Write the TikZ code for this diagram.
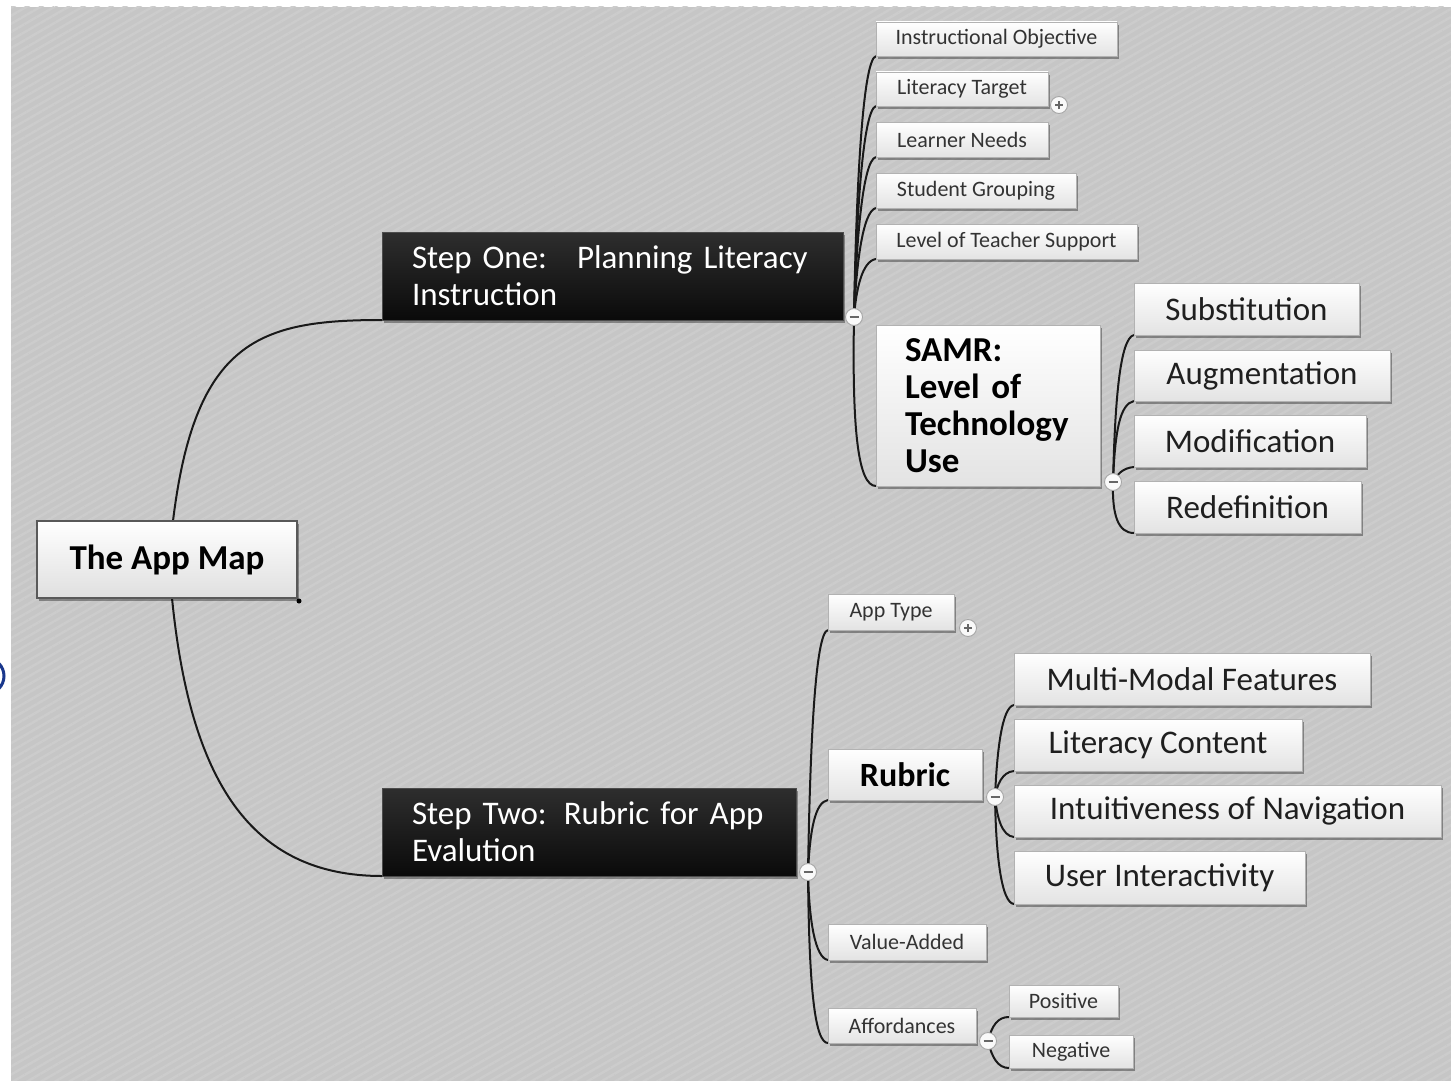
\documentclass[tikz,border=0pt]{standalone}
\usepackage{fontspec}
\setmainfont{Carlito}
\usetikzlibrary{shadows,patterns.meta}
\definecolor{bgA}{RGB}{198,198,198}
\definecolor{bgB}{RGB}{204,204,204}
\definecolor{conncol}{RGB}{25,25,25}
\definecolor{arcblue}{RGB}{25,55,140}
\pgfdeclarelayer{back}
\pgfdeclarelayer{links}
\pgfsetlayers{back,links,main}
\tikzset{
  boxbase/.style={anchor=north west, outer sep=0pt, inner sep=1pt},
  leaf/.style={boxbase, draw=gray!60, line width=0.8pt, top color=white, bottom color=gray!22,
    drop shadow={shadow xshift=2pt, shadow yshift=-3pt, opacity=0.35, fill=black}},
  smalltext/.style={font=\fontsize{22}{25}\selectfont, text=black!80},
  bigtext/.style={font=\fontsize{33}{38}\selectfont, text=black!88},
  boldtext/.style={font=\fontsize{34}{38}\selectfont\bfseries, text=black},
  stepbox/.style={boxbase, draw=gray!60!black, line width=0.8pt, top color=black!82, bottom color=black!96,
    text=white, align=left, inner xsep=30pt, font=\fontsize{33}{37}\selectfont,
    drop shadow={shadow xshift=2pt, shadow yshift=-3pt, opacity=0.35, fill=black}},
  rootbox/.style={boxbase, draw=black!65, line width=2.5pt, top color=white, bottom color=gray!25,
    font=\fontsize{35}{38}\selectfont\bfseries,
    drop shadow={shadow xshift=2pt, shadow yshift=-3pt, opacity=0.35, fill=black}},
  conn/.style={draw=conncol, line width=2pt},
  toggle/.style={circle, minimum size=17pt, inner sep=0pt, outer sep=0pt, draw=gray!70, line width=0.9pt, fill=gray!5},
  minusbtn/.style={toggle, path picture={\draw[gray!80!black, line width=1.6pt]
      ([xshift=-4.5pt]path picture bounding box.center) -- ([xshift=4.5pt]path picture bounding box.center);}},
  plusbtn/.style={toggle, path picture={\draw[gray!80!black, line width=1.5pt]
      ([xshift=-4pt]path picture bounding box.center) -- ([xshift=4pt]path picture bounding box.center)
      ([yshift=-4pt]path picture bounding box.center) -- ([yshift=4pt]path picture bounding box.center);}},
}
\begin{document}
\begin{tikzpicture}[x=1pt,y=-1pt]
\useasboundingbox (0,0) rectangle (1451,1081);
\begin{pgfonlayer}{back}
  \fill[white] (0,0) rectangle (1451,1081);
  \fill[bgA] (11,7) rectangle (1451,1081);
  \begin{scope}
    \clip (11,7) rectangle (1451,1081);
    \fill[pattern={Lines[angle=30,distance=7pt,line width=2.5pt]}, pattern color=bgB] (-40,-40) rectangle (1500,1120);
  \end{scope}
  \draw[arcblue, line width=3pt] (-14,676) circle[radius=18];
\end{pgfonlayer}

% root
\node[rootbox, minimum width=260pt, minimum height=77pt] (map) at (37,521) {The App Map};
\fill[black] (299,601) circle[radius=2.5pt];

% main branches
\node[stepbox, text width=401pt, minimum height=88pt] (s1) at (382,232)
  {Step One:\hspace{30pt}Planning Literacy\\Instruction};
\node[stepbox, text width=354pt, minimum height=88pt] (s2) at (382,788)
  {Step Two:\hspace{17pt}Rubric for App\\Evalution};

% step one children
\node[leaf, smalltext, minimum width=241pt, minimum height=34pt] (io) at (876,22) {Instructional Objective};
\node[leaf, smalltext, minimum width=172pt, minimum height=34pt] (lt) at (876,72) {Literacy Target};
\node[leaf, smalltext, minimum width=172pt, minimum height=35pt] (ln) at (876,122) {Learner Needs};
\node[leaf, smalltext, minimum width=200pt, minimum height=35pt] (sg) at (876,173) {Student Grouping};
\node[leaf, smalltext, minimum width=261pt, minimum height=35pt] (ts) at (876,224) {Level of Teacher Support};
\node[leaf, font=\fontsize{35}{37}\selectfont\bfseries, align=left, text width=166pt, inner xsep=29pt,
      minimum height=161pt] (samr) at (876,325) {SAMR:\\Level of\\Technology\\Use};

% SAMR children
\node[leaf, bigtext, minimum width=225pt, minimum height=52pt] (sub) at (1134,283) {Substitution};
\node[leaf, bigtext, minimum width=256pt, minimum height=51pt] (aug) at (1134,350) {Augmentation};
\node[leaf, bigtext, minimum width=232pt, minimum height=52pt] (mod) at (1134,415) {Modification};
\node[leaf, bigtext, minimum width=227pt, minimum height=52pt] (red) at (1134,481) {Redefinition};

% step two children
\node[leaf, smalltext, minimum width=126pt, minimum height=36pt] (apt) at (828,594) {App Type};
\node[leaf, boldtext, minimum width=154pt, minimum height=51pt] (rub) at (828,749) {Rubric};
\node[leaf, smalltext, minimum width=158pt, minimum height=36pt] (va) at (828,924) {Value-Added};
\node[leaf, smalltext, minimum width=148pt, minimum height=35pt] (aff) at (828,1008) {Affordances};

% rubric children
\node[leaf, bigtext, minimum width=356pt, minimum height=52pt] (mm) at (1014,653) {Multi-Modal Features};
\node[leaf, bigtext, minimum width=288pt, minimum height=52pt] (lc) at (1014,719) {Literacy Content};
\node[leaf, bigtext, minimum width=427pt, minimum height=52pt] (nav) at (1014,785) {Intuitiveness of Navigation};
\node[leaf, bigtext, minimum width=291pt, minimum height=53pt] (ui) at (1014,851) {User Interactivity};

% affordances children
\node[leaf, smalltext, minimum width=109pt, minimum height=32pt] (pos) at (1009,985) {Positive};
\node[leaf, smalltext, minimum width=124pt, minimum height=33pt] (neg) at (1009,1035) {Negative};

% toggles
\node[minusbtn] (m1) at (854,317) {};
\node[minusbtn] (m2) at (1113,482) {};
\node[minusbtn] (m3) at (808,872) {};
\node[minusbtn] (m4) at (995,797) {};
\node[minusbtn] (m5) at (988,1041) {};
\node[plusbtn] (p1) at (1059,105) {};
\node[plusbtn] (p2) at (968,628) {};

\begin{pgfonlayer}{links}
  \draw[conn] ([xshift=6pt]map.north) .. controls (195,340) and (260,320) .. (s1.south west);
  \draw[conn] ([xshift=5pt]map.south) .. controls (190,780) and (250,876) .. (s2.south west);

  \draw[conn] (m1.center) .. controls (856,200) and (862,60) .. (io.south west);
  \draw[conn] (m1.center) .. controls (856,230) and (862,110) .. (lt.south west);
  \draw[conn] (m1.center) .. controls (856,250) and (862,160) .. (ln.south west);
  \draw[conn] (m1.center) .. controls (856,270) and (862,211) .. (sg.south west);
  \draw[conn] (m1.center) .. controls (856,290) and (862,261) .. (ts.south west);
  \draw[conn] (m1.center) .. controls (852,430) and (858,486) .. (samr.south west);

  \draw[conn] (m2.center) .. controls (1115,400) and (1120,338) .. (sub.south west);
  \draw[conn] (m2.center) .. controls (1115,430) and (1120,404) .. (aug.south west);
  \draw[conn] (m2.center) .. controls (1117,475) and (1122,468) .. (mod.south west);
  \draw[conn] (m2.center) .. controls (1112,515) and (1118,533) .. (red.south west);

  \draw[conn] (m3.center) .. controls (810,750) and (815,632) .. (apt.south west);
  \draw[conn] (m3.center) .. controls (810,830) and (815,802) .. (rub.south west);
  \draw[conn] (m3.center) .. controls (809,920) and (815,958) .. (va.south west);
  \draw[conn] (m3.center) .. controls (809,990) and (815,1043) .. (aff.south west);

  \draw[conn] (m4.center) .. controls (997,750) and (1002,707) .. (mm.south west);
  \draw[conn] (m4.center) .. controls (997,785) and (1002,772) .. (lc.south west);
  \draw[conn] (m4.center) .. controls (997,818) and (1002,836) .. (nav.south west);
  \draw[conn] (m4.center) .. controls (996,860) and (1002,903) .. (ui.south west);

  \draw[conn] (m5.center) .. controls (992,1025) and (998,1017) .. (pos.south west);
  \draw[conn] (m5.center) .. controls (992,1058) and (998,1068) .. (neg.south west);
\end{pgfonlayer}
\end{tikzpicture}
\end{document}
